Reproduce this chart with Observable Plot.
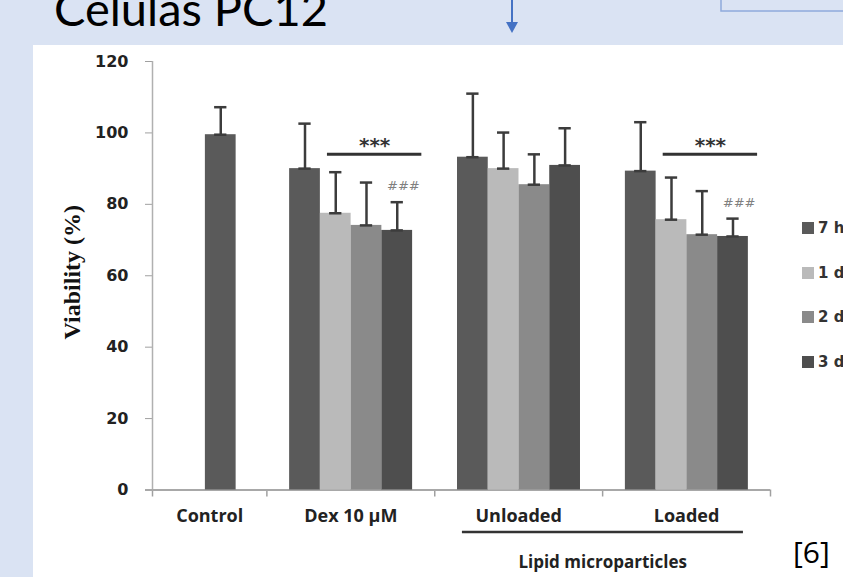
<!DOCTYPE html>
<html>
<head>
<meta charset="utf-8">
<script src="https://cdn.jsdelivr.net/npm/d3@7"></script>
<script src="https://cdn.jsdelivr.net/npm/@observablehq/plot@0.6"></script>
<style>
  html, body { margin: 0; padding: 0; }
  body { width: 843px; height: 577px; overflow: hidden; background: #dae3f3; position: relative; font-family: "Open Sans", sans-serif; }
  #title { position: absolute; left: 54px; top: -15px; font-family: "Lato", sans-serif; font-size: 47px; color: #000; white-space: nowrap; line-height: 1; }
  #deco { position: absolute; left: 0; top: 0; }
  #panel { position: absolute; left: 33px; top: 45px; width: 810px; height: 532px; background: #fff; }
  #chart { position: absolute; left: 0; top: 0; }
  #legend { position: absolute; left: 802px; top: 0; width: 100px; }
  .li { position: absolute; left: 0; white-space: nowrap; font-family: "DejaVu Sans", sans-serif; font-weight: bold; font-size: 15px; color: #333; line-height: 1; }
  .sw { display: inline-block; width: 12px; height: 12px; margin-right: 4px; vertical-align: -1px; }
  #ref { position: absolute; left: 793px; top: 537px; font-family: "Open Sans", sans-serif; font-size: 30px; color: #000; line-height: 1; }
</style>
</head>
<body>
<div id="title">Células PC12</div>
<svg id="deco" width="843" height="45">
  <line x1="512" y1="0" x2="512" y2="23" stroke="#4472c4" stroke-width="2"/>
  <path d="M506,22 L518,22 L512,33 Z" fill="#4472c4"/>
  <rect x="721" y="-10" width="140" height="21" fill="none" stroke="#8faadc" stroke-width="1.5"/>
</svg>
<div id="panel"><div id="chart"></div></div>
<div id="legend"></div>
<div id="ref">[6]</div>
<script>
// ---- data ----
const groups = ["Control", "Dex 10 µM", "Unloaded", "Loaded"];
const series = ["7 h", "1 d", "2 d", "3 d"];
const controlValues = [99.5];
const controlErrors = [7.7];
const dexValues = [90.0, 77.5, 74.1, 72.7];
const dexErrors = [12.6, 11.5, 12.0, 7.9];
const unloadedValues = [93.2, 90.0, 85.5, 90.9];
const unloadedErrors = [17.8, 10.1, 8.5, 10.4];
const loadedValues = [89.3, 75.7, 71.5, 71.0];
const loadedErrors = [13.7, 11.8, 12.2, 5.0];
const yTicks = [0, 20, 40, 60, 80, 100, 120];
const groupNote = "Lipid microparticles";
const starLabel = "***";
const hashLabel = "###";
const seriesColors = ["#5a5a5a", "#bababa", "#8a8a8a", "#4e4e4e"];

// ---- layout (in bar-width units) ----
const lead = 1.72, gapAfterControl = 1.74, gapBetween = 1.46, trail = 0.72;
const valuesByGroup = [controlValues, dexValues, unloadedValues, loadedValues];
const errorsByGroup = [controlErrors, dexErrors, unloadedErrors, loadedErrors];
const starts = [];
let pos = lead;
valuesByGroup.forEach((vals, g) => {
  starts.push(pos);
  pos += vals.length + (g === 0 ? gapAfterControl : gapBetween);
});
const xMax = pos - gapBetween + trail;
const boundaries = [0, ...starts.slice(1).map(s => s - 0.74), xMax];

const bars = [];
valuesByGroup.forEach((vals, g) => {
  vals.forEach((v, s) => {
    const x1 = starts[g] + s;
    bars.push({group: groups[g], series: series[s], value: v, err: errorsByGroup[g][s], x1, x2: x1 + 1, xc: x1 + 0.5});
  });
});
const capHalf = 0.2;
const labels = groups.map((name, g) => ({name, x: (boundaries[g] + boundaries[g + 1]) / 2}));

// significance annotations for Dex and Loaded (1 d .. 3 d vs 7 h)
const sigGroups = [1, 3];
const sig = sigGroups.map(g => ({x1: starts[g] + 1 + 0.23, x2: starts[g] + 4 + 0.3, y: 94}));
const hashes = sigGroups.map(g => {
  const v = valuesByGroup[g][3] + errorsByGroup[g][3];
  return {x: starts[g] + 3.5 + 0.2, y: v + 4.5};
});
const under = [{x1: starts[2] + 0.16, x2: starts[3] + 4 - 0.16, y: 0}];
const note = [{x: boundaries[3], y: 0, t: groupNote}];

const plot = Plot.plot({
  width: 810, height: 532,
  marginLeft: 119, marginRight: 73, marginTop: 16, marginBottom: 87.5,
  x: {type: "linear", domain: [0, xMax]},
  y: {domain: [0, 120]},
  color: {domain: series, range: seriesColors},
  style: {fontFamily: "DejaVu Sans, sans-serif", background: "transparent", color: "#222", overflow: "visible"},
  marks: [
    Plot.axisY({ticks: yTicks, tickSize: 7, tickPadding: 17, fontSize: 16, fontWeight: "bold", stroke: "#a0a0a0", fill: "#222", label: null}),
    Plot.axisX(boundaries, {tickSize: 7, tickFormat: () => "", stroke: "#a0a0a0", strokeWidth: 1.5, label: null}),
    Plot.ruleX([0], {y1: 0, y2: 120, stroke: "#b0b0b0", strokeWidth: 1.5}),
    Plot.ruleY([0], {stroke: "#a8a8a8", strokeWidth: 2, insetLeft: -7}),
    Plot.rectY(bars, {x1: "x1", x2: "x2", y: "value", fill: "series"}),
    Plot.ruleX(bars, {x: "xc", y1: "value", y2: d => d.value + d.err, stroke: "#3c3c3c", strokeWidth: 2.5}),
    Plot.ruleY(bars, {y: d => d.value + d.err, x1: d => d.xc - capHalf, x2: d => d.xc + capHalf, stroke: "#3c3c3c", strokeWidth: 2.5}),
    Plot.ruleY(bars, {y: "value", x1: d => d.xc - capHalf, x2: d => d.xc + capHalf, stroke: "#3c3c3c", strokeWidth: 2.5}),
    Plot.ruleY(sig, {x1: "x1", x2: "x2", y: "y", stroke: "#333", strokeWidth: 3}),
    Plot.text(sig, {x: d => (d.x1 + d.x2) / 2, y: "y", dy: -9, text: () => starLabel, fontSize: 20, fontWeight: "bold", fill: "#333"}),
    Plot.text(hashes, {x: "x", y: "y", text: () => hashLabel, fontSize: 13, fontStyle: "italic", fill: "#808080"}),
    Plot.text(labels, {x: "x", y: 0, dy: 26, text: "name", fontSize: 18, fontWeight: "bold", fontFamily: "Open Sans, sans-serif", fill: "#222"}),
    Plot.ruleY(under, {x1: "x1", x2: "x2", y: "y", dy: 42, stroke: "#333", strokeWidth: 2.5}),
    Plot.text(note, {x: "x", y: "y", dy: 73, text: "t", fontSize: 17, fontWeight: "bold", fontFamily: "Open Sans, sans-serif", fill: "#222"}),
    Plot.text([{t: "Viability (%)"}], {x: 0, y: 61, dx: -80, rotate: -90, text: "t", fontSize: 24, fontWeight: "bold", fontFamily: "Liberation Serif, serif", fill: "#111"})
  ]
});
document.getElementById("chart").appendChild(plot);

// legend
const legend = document.getElementById("legend");
const legendTops = [221, 266, 310, 355];
series.forEach((s, i) => {
  const item = document.createElement("div");
  item.className = "li";
  item.style.top = legendTops[i] + "px";
  item.innerHTML = `<span class="sw" style="background:${seriesColors[i]}"></span>${s}`;
  legend.appendChild(item);
});
</script>
</body>
</html>
